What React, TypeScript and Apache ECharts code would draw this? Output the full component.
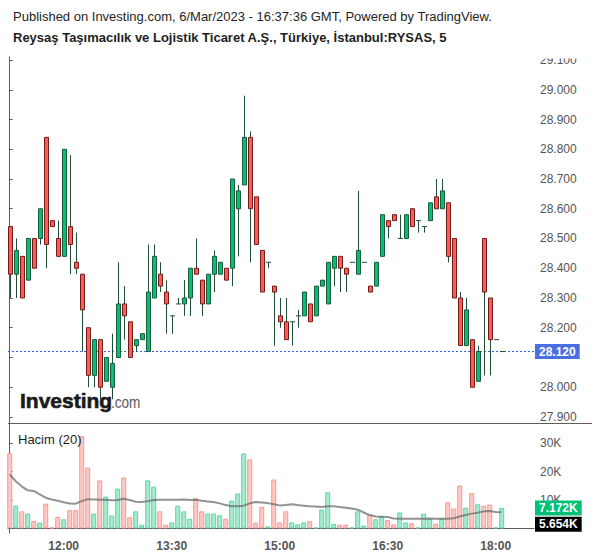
import React, { useEffect, useRef } from "react";
import * as echarts from "echarts";

// 5-minute bars (time labels)
const times = [
  "11:15", "11:20", "11:25", "11:30", "11:35", "11:40", "11:45", "11:50", "11:55", "12:00",
  "12:05", "12:10", "12:15", "12:20", "12:25", "12:30", "12:35", "12:40", "12:45", "12:50",
  "12:55", "13:00", "13:05", "13:10", "13:15", "13:20", "13:25", "13:30", "13:35", "13:40",
  "13:45", "13:50", "13:55", "14:00", "14:05", "14:10", "14:15", "14:20", "14:25", "14:30",
  "14:35", "14:40", "14:45", "14:50", "14:55", "15:00", "15:05", "15:10", "15:15", "15:20",
  "15:25", "15:30", "15:35", "15:40", "15:45", "15:50", "15:55", "16:00", "16:05", "16:10",
  "16:15", "16:20", "16:25", "16:30", "16:35", "16:40", "16:45", "16:50", "16:55", "17:00",
  "17:05", "17:10", "17:15", "17:20", "17:25", "17:30", "17:35", "17:40", "17:45", "17:50",
  "17:55", "18:00", "18:05",
];

const opens = [
  28.54, 28.38, 28.44, 28.36, 28.50, 28.50, 28.84, 28.56, 28.50, 28.44,
  28.54, 28.42, 28.38, 28.20, 28.04, 28.16, 28.02, 28.00, 28.10, 28.28,
  28.22, 28.14, 28.16, 28.12, 28.30, 28.38, 28.32, 28.24, 28.28, 28.28,
  28.30, 28.40, 28.36, 28.28, 28.38, 28.38, 28.40, 28.40, 28.60, 28.68,
  28.84, 28.64, 28.46, 28.42, 28.34, 28.24, 28.22, 28.22, 28.24, 28.24,
  28.28, 28.24, 28.34, 28.28, 28.40, 28.44, 28.40, 28.42, 28.38, 28.42,
  28.34, 28.34, 28.44, 28.56, 28.58, 28.50, 28.50, 28.60, 28.56, 28.54,
  28.56, 28.64, 28.60, 28.62, 28.50, 28.30, 28.14, 28.16, 28.02, 28.50,
  28.30, 28.16, 28.12,
];

const closes = [
  28.38, 28.46, 28.30, 28.50, 28.40, 28.60, 28.48, 28.54, 28.44, 28.80,
  28.48, 28.40, 28.26, 28.04, 28.16, 28.00, 28.10, 28.08, 28.28, 28.24,
  28.10, 28.16, 28.18, 28.32, 28.44, 28.34, 28.28, 28.24, 28.28, 28.30,
  28.40, 28.38, 28.28, 28.38, 28.44, 28.42, 28.36, 28.70, 28.66, 28.84,
  28.60, 28.48, 28.32, 28.42, 28.32, 28.22, 28.16, 28.22, 28.24, 28.32,
  28.22, 28.34, 28.36, 28.42, 28.44, 28.40, 28.38, 28.42, 28.46, 28.42,
  28.32, 28.42, 28.58, 28.54, 28.56, 28.50, 28.58, 28.54, 28.56, 28.54,
  28.62, 28.60, 28.66, 28.44, 28.30, 28.14, 28.26, 28.00, 28.12, 28.32,
  28.16, 28.16, 28.12,
];

const lows = [
  28.30, 28.30, 28.30, 28.36, 28.40, 28.48, 28.40, 28.54, 28.44, 28.44,
  28.38, 28.38, 28.12, 28.00, 28.00, 27.96, 28.02, 27.96, 28.10, 28.16,
  28.10, 28.12, 28.16, 28.12, 28.30, 28.32, 28.18, 28.18, 28.28, 28.24,
  28.24, 28.38, 28.24, 28.28, 28.32, 28.38, 28.36, 28.34, 28.44, 28.68,
  28.42, 28.48, 28.32, 28.40, 28.14, 28.20, 28.16, 28.14, 28.20, 28.24,
  28.22, 28.24, 28.34, 28.28, 28.34, 28.32, 28.32, 28.42, 28.38, 28.42,
  28.32, 28.34, 28.44, 28.50, 28.56, 28.50, 28.50, 28.54, 28.52, 28.52,
  28.56, 28.60, 28.60, 28.42, 28.30, 28.14, 28.14, 28.00, 28.02, 28.04,
  28.04, 28.16, 28.12,
];

const highs = [
  28.54, 28.50, 28.44, 28.50, 28.50, 28.60, 28.84, 28.56, 28.56, 28.80,
  28.78, 28.52, 28.38, 28.20, 28.16, 28.16, 28.10, 28.18, 28.42, 28.34,
  28.22, 28.16, 28.18, 28.48, 28.48, 28.42, 28.36, 28.24, 28.30, 28.36,
  28.40, 28.50, 28.36, 28.38, 28.46, 28.42, 28.40, 28.70, 28.68, 28.98,
  28.86, 28.64, 28.46, 28.42, 28.34, 28.30, 28.30, 28.22, 28.26, 28.32,
  28.28, 28.34, 28.36, 28.42, 28.44, 28.44, 28.40, 28.42, 28.66, 28.42,
  28.34, 28.42, 28.58, 28.56, 28.58, 28.58, 28.58, 28.60, 28.56, 28.54,
  28.62, 28.70, 28.70, 28.62, 28.50, 28.32, 28.30, 28.16, 28.14, 28.50,
  28.30, 28.16, 28.12,
];

// volume in thousands
const volumes = [
  26.4, 8.0, 6.0, 5.2, 2.6, 2.0, 8.7, 0.3, 4.0, 3.2,
  6.4, 6.4, 32.5, 21.4, 5.2, 16.9, 11.2, 4.5, 14.0, 17.9,
  3.9, 6.0, 1.3, 16.9, 14.7, 6.0, 1.3, 2.1, 8.0, 6.0,
  3.4, 10.6, 6.0, 5.2, 5.2, 4.6, 3.4, 9.8, 12.3, 26.4,
  24.3, 2.0, 7.5, 0.7, 17.2, 2.1, 6.0, 2.1, 1.4, 2.1,
  2.5, 0.3, 6.6, 12.7, 1.6, 1.3, 1.3, 0.3, 6.0, 1.0,
  4.8, 3.2, 4.2, 2.9, 1.4, 5.6, 2.1, 1.8, 0.3, 5.2,
  3.5, 1.6, 3.5, 9.2, 7.0, 15.1, 7.3, 12.4, 8.5, 8.0,
  8.4, 0.3, 7.172,
];

// 20-period volume average (thousands)
const volumeMA = [
  19.0, 16.6, 14.8, 13.4, 13.2, 12.0, 10.8, 10.2, 9.7, 9.2,
  8.8, 8.7, 9.6, 10.3, 10.2, 10.1, 10.1, 9.9, 10.0, 10.4,
  10.0, 9.4, 9.3, 9.6, 10.0, 10.1, 10.1, 10.1, 10.1, 10.2,
  10.0, 10.1, 9.7, 9.5, 9.3, 8.8, 8.2, 7.8, 7.8, 8.0,
  8.8, 9.3, 9.1, 8.9, 8.5, 8.1, 8.2, 8.5, 8.2, 8.0,
  7.8, 7.7, 7.5, 7.8, 7.8, 7.5, 7.3, 7.0, 6.6, 5.6,
  4.7, 4.2, 4.1, 4.0, 3.5, 3.4, 3.4, 3.4, 3.4, 3.4,
  3.5, 3.4, 3.4, 3.4, 3.6, 4.2, 4.7, 5.2, 5.5, 6.0,
  6.1, 5.8, 5.654,
];

const priceTicks = [27.9, 28.0, 28.1, 28.2, 28.3, 28.4, 28.5, 28.6, 28.7, 28.8, 28.9, 29.0, 29.1];
// 28.100 sits under the last-price tag in the reference, so it carries no visible label
const priceLabelTicks = [27.9, 28.0, 28.2, 28.3, 28.4, 28.5, 28.6, 28.7, 28.8, 28.9, 29.0, 29.1];
const volumeTicks = [10, 20, 30];
const timeTickLabels = ["12:00", "13:30", "15:00", "16:30", "18:00"];

const FONT = "'Liberation Sans', Arial, sans-serif";
const UP = "#00c176";
const DOWN = "#ff5b50";
const UP_BORDER = "#1c5b3b";
const DOWN_BORDER = "#701c1c";
const WICK = "#1f4d37";
const VOL_UP = "#a6ebd0";
const VOL_UP_B = "#58d6a2";
const VOL_DOWN = "#ffc8c4";
const VOL_DOWN_B = "#ff968f";
const LAST_LINE = "#2962ff";
const LAST_TAG = "#4a6fe3";

export default function App() {
  const ref = useRef<HTMLDivElement>(null);

  useEffect(() => {
    if (!ref.current) return;
    const chart = echarts.init(ref.current, null, { renderer: "svg" });

    const candleData = times.map((_, i) => [i, opens[i], closes[i], lows[i], highs[i]]);
    const volData = volumes.map((v, i) => {
      const up = closes[i] >= opens[i];
      return {
        value: [i, v],
        itemStyle: {
          color: up ? VOL_UP : VOL_DOWN,
          borderColor: up ? VOL_UP_B : VOL_DOWN_B,
          borderWidth: 1,
        },
      };
    });
    const maData = volumeMA.map((v, i) => [i, v]);
    const tickIndex = timeTickLabels.map((t) => times.indexOf(t));
    const lastClose = closes[closes.length - 1];
    const lastVol = volumes[volumes.length - 1];
    const lastMA = volumeMA[volumeMA.length - 1];

    const xMin = -0.283;
    const xMax = 87.38;

    const tagStyle = (bg: string) => ({
      backgroundColor: bg,
      color: "#ffffff",
      fontSize: 12,
      fontWeight: "bold",
      padding: [2, 4, 1, 4],
      fontFamily: FONT,
      opacity: 1,
    });

    const tagLabel = (bg: string, text: string, offsetY = 0) => ({
      show: true,
      position: "end",
      distance: 1,
      offset: [0, offsetY],
      formatter: () => text,
      ...tagStyle(bg),
    });

    const option: any = {
      animation: false,
      backgroundColor: "#ffffff",
      textStyle: { fontFamily: FONT },
      title: [
        {
          text: "Published on Investing.com, 6/Mar/2023 - 16:37:36 GMT, Powered by TradingView.",
          left: 13,
          top: 10,
          padding: 0,
          textStyle: { fontSize: 13, fontWeight: "normal", color: "#1e1e1e", fontFamily: FONT },
        },
        {
          text: "Reysaş Taşımacılık ve Lojistik Ticaret A.Ş., Türkiye, İstanbul:RYSAS, 5",
          left: 13,
          top: 31,
          padding: 0,
          textStyle: { fontSize: 13, fontWeight: "bold", color: "#1e1e1e", fontFamily: FONT },
        },
      ],
      grid: [
        { left: 8, right: 66, top: 57, height: 366 },
        { left: 8, right: 66, top: 423, height: 110 },
      ],
      xAxis: [
        {
          type: "value",
          gridIndex: 0,
          min: xMin,
          max: xMax,
          show: false,
        },
        {
          type: "value",
          gridIndex: 1,
          min: xMin,
          max: xMax,
          axisLine: { show: true, lineStyle: { color: "#5d5d5d", width: 1 } },
          axisTick: { show: false },
          splitLine: { show: false },
          axisLabel: {
            customValues: tickIndex,
            formatter: (v: number) => times[Math.round(v)] ?? "",
            color: "#555555",
            fontSize: 12,
            fontWeight: "bold",
            margin: 7,
            fontFamily: FONT,
          },
        },
      ],
      yAxis: [
        {
          type: "value",
          gridIndex: 0,
          position: "right",
          min: 27.8798,
          max: 29.1101,
          axisLine: { show: true, lineStyle: { color: "#5d5d5d", width: 1 } },
          axisTick: { show: true, length: 3, customValues: priceTicks, lineStyle: { color: "#5d5d5d" } },
          splitLine: { show: false },
          axisLabel: {
            customValues: priceLabelTicks,
            formatter: (v: number) => v.toFixed(3),
            color: "#555555",
            fontSize: 12,
            margin: 6,
            fontFamily: FONT,
          },
        },
        {
          type: "value",
          gridIndex: 1,
          position: "right",
          min: -1.62,
          max: 37.1,
          axisLine: { show: true, lineStyle: { color: "#5d5d5d", width: 1 } },
          axisTick: { show: true, length: 3, customValues: volumeTicks, lineStyle: { color: "#5d5d5d" } },
          splitLine: { show: false },
          axisLabel: {
            customValues: volumeTicks,
            formatter: (v: number) => `${v}K`,
            color: "#555555",
            fontSize: 12,
            margin: 6,
            fontFamily: FONT,
          },
        },
      ],
      series: [
        {
          type: "line",
          name: "Son fiyat",
          xAxisIndex: 0,
          yAxisIndex: 0,
          data: [
            [xMin, lastClose],
            [xMax, lastClose],
          ],
          silent: true,
          symbol: "none",
          showSymbol: false,
          color: LAST_LINE,
          lineStyle: { color: LAST_LINE, type: [2, 2], width: 1, opacity: 1 },
          endLabel: {
            show: true,
            distance: 1,
            formatter: () => lastClose.toFixed(3),
            ...tagStyle(LAST_TAG),
          },
          z: 2,
        },
        {
          type: "custom",
          name: "RYSAS",
          xAxisIndex: 0,
          yAxisIndex: 0,
          data: candleData,
          encode: { x: 0, y: [1, 2, 3, 4] },
          renderItem: (_params: any, api: any) => {
            const i = api.value(0);
            const o = api.value(1);
            const c = api.value(2);
            const l = api.value(3);
            const h = api.value(4);
            const pO = api.coord([i, o]);
            const pC = api.coord([i, c]);
            const pL = api.coord([i, l]);
            const pH = api.coord([i, h]);
            const up = c >= o;
            const X = Math.round(pO[0]);
            const top = Math.min(pO[1], pC[1]);
            const bot = Math.max(pO[1], pC[1]);
            const children: any[] = [];
            if (pL[1] - pH[1] > 0.5) {
              children.push({
                type: "line",
                shape: { x1: X + 0.5, y1: pH[1], x2: X + 0.5, y2: pL[1] },
                style: { stroke: WICK, lineWidth: 1 },
              });
            }
            if (bot - top < 1) {
              children.push({
                type: "line",
                shape: { x1: X - 2, y1: top, x2: X + 3, y2: top },
                style: { stroke: WICK, lineWidth: 1 },
              });
            } else {
              children.push({
                type: "rect",
                shape: { x: X - 1.5, y: top, width: 4, height: bot - top },
                style: {
                  fill: up ? UP : DOWN,
                  stroke: up ? UP_BORDER : DOWN_BORDER,
                  lineWidth: 1,
                },
              });
            }
            return { type: "group", children };
          },
          z: 3,
        },
        {
          type: "bar",
          name: "Hacim",
          xAxisIndex: 1,
          yAxisIndex: 1,
          data: volData,
          barWidth: 5,
          markLine: {
            silent: true,
            symbol: ["none", "none"],
            data: [{ yAxis: lastVol }],
            lineStyle: { color: "rgba(0,0,0,0)", width: 1 },
            label: tagLabel(UP, `${lastVol.toFixed(3)}K`),
          },
        },
        {
          type: "line",
          name: "Hacim MA (20)",
          xAxisIndex: 1,
          yAxisIndex: 1,
          data: maData,
          showSymbol: false,
          symbol: "none",
          lineStyle: { color: "rgba(110,110,110,0.75)", width: 2 },
          z: 4,
          markLine: {
            silent: true,
            symbol: ["none", "none"],
            data: [{ yAxis: lastMA }],
            lineStyle: { color: "rgba(0,0,0,0)", width: 1 },
            label: tagLabel("#000000", `${lastMA.toFixed(3)}K`, 12),
          },
        },
      ],
      graphic: [
        {
          type: "rect",
          z: 100,
          shape: { x: 536, y: 42, width: 64, height: 16.5 },
          style: { fill: "#ffffff" },
        },
        {
          type: "line",
          z: 100,
          shape: { x1: 8, y1: 423.5, x2: 592, y2: 423.5 },
          style: { stroke: "#5d5d5d", lineWidth: 1 },
        },
        {
          type: "text",
          z: 100,
          x: 18,
          y: 439,
          style: {
            text: "Hacim (20)",
            fontSize: 13,
            fill: "#1e1e1e",
            verticalAlign: "middle",
            fontFamily: FONT,
          },
        },
        {
          type: "text",
          z: 100,
          x: 20,
          y: 411,
          style: {
            text: "Investing",
            fontSize: 21,
            fontWeight: "bold",
            fill: "#1a1a1a",
            stroke: "#1a1a1a",
            lineWidth: 0.6,
            verticalAlign: "bottom",
            fontFamily: FONT,
          },
        },
        {
          type: "text",
          z: 100,
          x: 111,
          y: 410,
          scaleX: 0.8,
          style: {
            text: ".com",
            fontSize: 17,
            fill: "#5a5a5a",
            verticalAlign: "bottom",
            fontFamily: FONT,
          },
        },
      ],
    };

    chart.setOption(option);
    return () => chart.dispose();
  }, []);

  return (
    <div
      ref={ref}
      style={{ position: "absolute", left: 0, top: 0, width: 600, height: 558 }}
    />
  );
}
